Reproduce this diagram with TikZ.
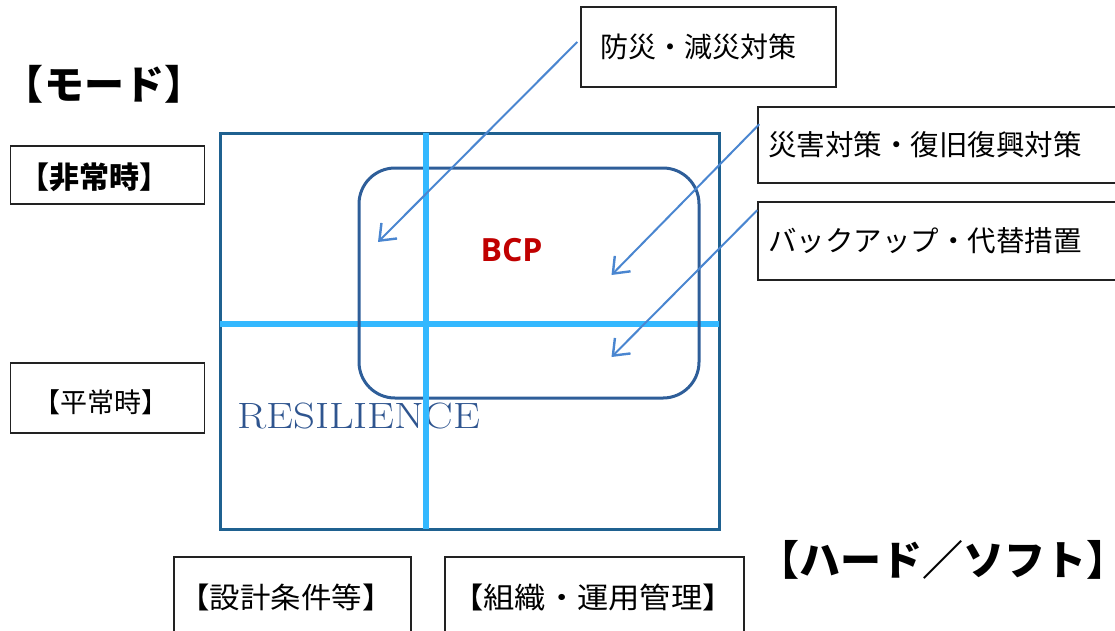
\documentclass[tikz,border=0pt]{standalone}
\usepackage{fontspec}
\newfontfamily\jp{Noto Sans CJK JP}
\newfontfamily\bcpfont{Open Sans}
\usetikzlibrary{arrows.meta}
\definecolor{frameblue}{HTML}{1F6190}
\definecolor{crossblue}{HTML}{33B8FF}
\definecolor{bcpblue}{HTML}{2E5E99}
\definecolor{arrowblue}{HTML}{4A86D0}
\definecolor{bcpred}{HTML}{C00000}
\definecolor{resblue}{HTML}{2F558F}
\definecolor{boxline}{HTML}{222222}
\tikzset{
  labelbox/.style={draw=boxline, line width=1.5pt, inner sep=0pt, fill=white},
  lefttext/.style={labelbox, align=left, inner xsep=10pt},
  crossline/.style={draw=crossblue, line width=6pt},
  pointer/.style={draw=arrowblue, line width=2pt, -{Straight Barb[length=14pt,width=22pt,line width=2.4pt]}},
  plain/.style={inner sep=0pt}
}
\begin{document}
\begin{tikzpicture}[x=1pt,y=-1pt]
\useasboundingbox (0,0) rectangle (1115,630);
% main frame
\node[draw=frameblue, line width=3pt, minimum width=499pt, minimum height=396pt, inner sep=0pt] (frame) at (470,331) {};
\coordinate (hl) at (220,324);
\coordinate (hr) at (719,324);
\coordinate (vt) at (425.5,133);
\coordinate (vb) at (425.5,529);
\draw[crossline] (hl) -- (hr);
% BCP rounded box
\node[draw=bcpblue, line width=3pt, rounded corners=36pt, minimum width=340pt, minimum height=230pt, inner sep=0pt] (bcpbox) at (529,283) {};
\node[plain, text=bcpred, font=\bcpfont\bfseries\fontsize{32}{32}\selectfont] (bcp) at (511.5,250) {BCP};
\node[plain, text=resblue, anchor=base west, font=\fontsize{36.6}{36.6}\selectfont] (res) at (237,428) {\scalebox{1.17}[1]{RESILIENCE}};
\draw[crossline] (vt) -- (vb);
% mode labels
\node[plain, font=\jp\bfseries\fontsize{40}{40}\selectfont] (mode) at (104,84) {【モード】};
\node[labelbox, minimum width=194pt, minimum height=58pt] (hijo) at (107.5,175) {};
\node[plain, font=\jp\bfseries\fontsize{30}{30}\selectfont] (hijot) at (94,177.5) {【非常時】};
\node[labelbox, minimum width=194pt, minimum height=70pt] (heijo) at (107.5,398) {};
\node[plain, font=\jp\fontsize{27}{27}\selectfont] (heijot) at (101,402) {【平常時】};
% hard / soft
\node[plain, font=\jp\bfseries\fontsize{41}{41}\selectfont] (hs) at (943,560) {【ハード／ソフト】};
\node[labelbox, minimum width=237pt, minimum height=90pt] (design) at (292.5,602) {};
\node[plain, font=\jp\fontsize{29}{29}\selectfont] (designt) at (286,597) {\scalebox{1.05}[1]{【設計条件等】}};
\node[labelbox, minimum width=299pt, minimum height=90pt] (org) at (594.5,602) {};
\node[plain, font=\jp\fontsize{29}{29}\selectfont] (orgt) at (593,597) {\scalebox{1.08}[1]{【組織・運用管理】}};
% measure boxes
\node[lefttext, inner xsep=19pt, text width=217pt, minimum height=80pt, font=\jp\fontsize{28}{28}\selectfont] (m1) at (708.5,47) {防災・減災対策};
\node[lefttext, text width=347pt, minimum height=76pt, font=\jp\fontsize{28.5}{28.5}\selectfont] (m2) at (941.5,145) {災害対策・復旧復興対策};
\node[lefttext, text width=347pt, minimum height=78pt, font=\jp\fontsize{28.5}{28.5}\selectfont] (m3) at (941.5,241) {バックアップ・代替措置};
% arrows
\coordinate (t1) at (378,242);
\coordinate (t2) at (611.5,275);
\coordinate (t3) at (611.5,357);
\draw[pointer] ([xshift=-3pt,yshift=5pt]m1.west) -- (t1);
\draw[pointer] ([xshift=2pt,yshift=-18pt]m2.north west) -- (t2);
\draw[pointer] ([yshift=-9pt]m3.north west) -- (t3);
\end{tikzpicture}
\end{document}
